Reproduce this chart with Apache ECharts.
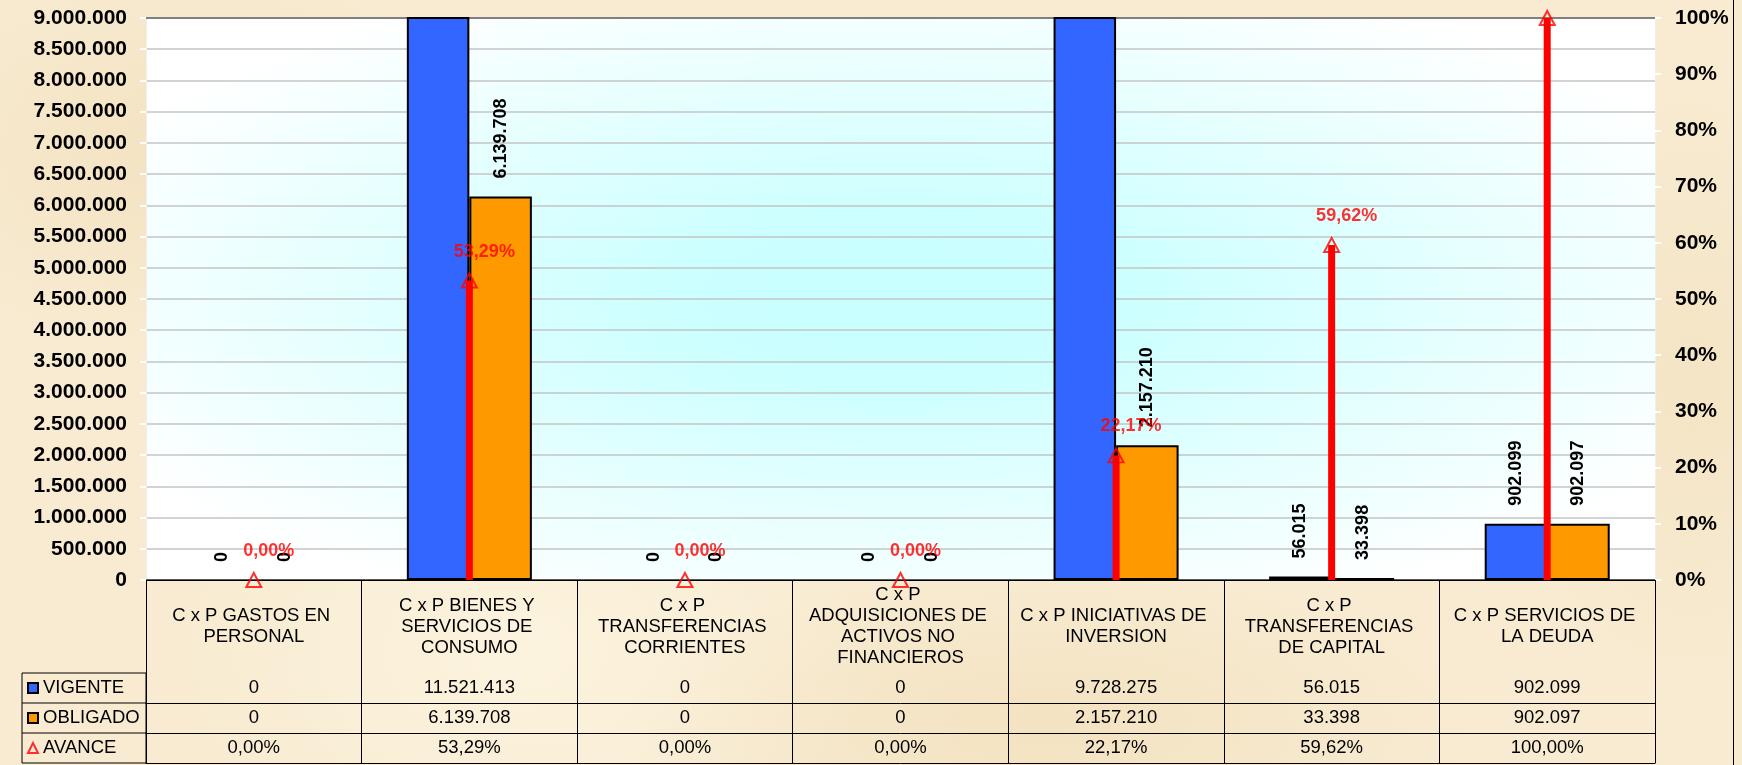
<!DOCTYPE html>
<html>
<head>
<meta charset="utf-8">
<script src="https://cdn.jsdelivr.net/npm/echarts@6/dist/echarts.min.js"></script>
<style>
html, body { margin: 0; padding: 0; }
body {
    width: 1742px; height: 765px; overflow: hidden;
    background-color: #f8ebd1;
    background-image:
        radial-gradient(ellipse 300px 200px at 10% 20%, rgba(240, 220, 182, 0.55), rgba(240, 220, 182, 0)),
        radial-gradient(ellipse 420px 160px at 60% 95%, rgba(238, 218, 178, 0.5), rgba(238, 218, 178, 0)),
        radial-gradient(ellipse 200px 300px at 97% 50%, rgba(240, 222, 186, 0.5), rgba(240, 222, 186, 0)),
        radial-gradient(ellipse 350px 250px at 30% 85%, rgba(255, 249, 232, 0.6), rgba(255, 249, 232, 0));
}
#main { width: 1733px; height: 765px; border-right: 1px solid #000; }
</style>
</head>
<body>
<div id="main"></div>
<script>
// datos
var categorias = [
    "C x P GASTOS EN PERSONAL",
    "C x P BIENES Y SERVICIOS DE CONSUMO",
    "C x P TRANSFERENCIAS CORRIENTES",
    "C x P ADQUISICIONES DE ACTIVOS NO FINANCIEROS",
    "C x P INICIATIVAS DE INVERSION",
    "C x P TRANSFERENCIAS DE CAPITAL",
    "C x P SERVICIOS DE LA DEUDA"
];
var vigente = [0, 11521413, 0, 0, 9728275, 56015, 902099];
var obligado = [0, 6139708, 0, 0, 2157210, 33398, 902097];
var avance = [0, 53.29, 0, 0, 22.17, 59.62, 100];

var Y_MAX = 9000000, Y_STEP = 500000;
var FONT = 'Liberation Sans, Arial, sans-serif';
var GRID_LEFT = 146, GRID_TOP = 18, GRID_H = 562;
var HEAD_H = 93, ROW_H = 30;

var chartDom = document.getElementById('main');
var myChart = echarts.init(chartDom);
var W = chartDom.clientWidth;
var GRID_RIGHT = W - 1655;
var GRID_W = W - GRID_LEFT - GRID_RIGHT;
var GRID_BOTTOM = 765 - GRID_TOP - GRID_H;

function miles(v) {
    return String(v).replace(/\B(?=(\d{3})+(?!\d))/g, '.');
}
function pct(v) {
    return v.toFixed(2).replace('.', ',') + '%';
}
// las barras en cero no llevan borde
function barras(valores) {
    return valores.map(function (v) {
        return v === 0 ? { value: v, itemStyle: { borderWidth: 0 } } : v;
    });
}

// eje de una fila de la tabla de datos
function filaEje(offset, textos) {
    return {
        type: 'category',
        data: categorias,
        position: 'bottom',
        offset: offset,
        axisLine: { show: true, lineStyle: { color: '#000', width: 1 } },
        axisTick: { show: false },
        axisLabel: {
            show: !!textos,
            interval: 0,
            margin: ROW_H / 2,
            verticalAlign: 'middle',
            fontFamily: FONT,
            fontSize: 18.5,
            color: '#000',
            formatter: function (v, i) { return textos ? textos[i] : ''; }
        }
    };
}

var etiquetaBarra = {
    show: true,
    position: 'top',
    distance: 18,
    rotate: 90,
    align: 'left',
    verticalAlign: 'middle',
    fontFamily: FONT,
    fontSize: 18,
    fontWeight: 'bold',
    color: '#000',
    formatter: function (p) { return p.value > Y_MAX ? '' : miles(p.value); }
};

var yTop = GRID_TOP + GRID_H + HEAD_H;

var option = {
    animation: false,
    textStyle: { fontFamily: FONT },
    grid: { left: GRID_LEFT, right: GRID_RIGHT, top: GRID_TOP, bottom: GRID_BOTTOM },
    graphic: [
        {
            type: 'rect', z: -10, silent: true,
            x: GRID_LEFT, y: GRID_TOP, scaleX: GRID_W / GRID_H,
            shape: { x: 0, y: 0, width: GRID_H, height: GRID_H },
            style: {
                fill: new echarts.graphic.RadialGradient(0.5, 0.5, 0.6, [
                    { offset: 0, color: '#c8ffff' },
                    { offset: 0.25, color: '#ccffff' },
                    { offset: 1, color: '#ffffff' }
                ])
            }
        },
        {
            type: 'rect', silent: true,
            shape: { x: 22, y: yTop, width: GRID_LEFT - 22, height: 3 * ROW_H },
            style: { fill: 'rgba(0,0,0,0)', stroke: '#000', lineWidth: 1 }
        },
        {
            type: 'line', silent: true,
            shape: { x1: 22, y1: yTop + ROW_H, x2: GRID_LEFT, y2: yTop + ROW_H },
            style: { stroke: '#000', lineWidth: 1 }
        },
        {
            type: 'line', silent: true,
            shape: { x1: 22, y1: yTop + 2 * ROW_H, x2: GRID_LEFT, y2: yTop + 2 * ROW_H },
            style: { stroke: '#000', lineWidth: 1 }
        }
    ],
    legend: {
        orient: 'vertical',
        left: 27,
        top: yTop,
        padding: 0,
        itemGap: 0,
        itemWidth: 10,
        itemHeight: 10,
        selectedMode: false,
        textStyle: { fontFamily: FONT, fontSize: 18.5, color: '#000', lineHeight: ROW_H },
        data: [
            { name: 'VIGENTE', icon: 'rect', itemStyle: { color: '#3366ff', borderColor: '#000', borderWidth: 2 } },
            { name: 'OBLIGADO', icon: 'rect', itemStyle: { color: '#ff9900', borderColor: '#000', borderWidth: 2 } },
            { name: 'AVANCE', icon: 'triangle', itemWidth: 12, itemHeight: 11,
              itemStyle: { color: 'rgba(255,255,255,0)', borderColor: '#ff0000', borderWidth: 2 } }
        ]
    },
    xAxis: [
        {
            type: 'category',
            data: categorias,
            position: 'bottom',
            axisLine: { show: true, lineStyle: { color: '#333', width: 1.5 } },
            axisTick: { show: true, interval: 0, length: HEAD_H + 3 * ROW_H, lineStyle: { color: '#000', width: 1 } },
            axisLabel: {
                interval: 0,
                margin: HEAD_H / 2,
                verticalAlign: 'middle',
                width: 196,
                overflow: 'break',
                lineHeight: 21,
                fontFamily: FONT,
                fontSize: 18.5,
                color: '#000'
            }
        },
        filaEje(HEAD_H, vigente.map(miles)),
        filaEje(HEAD_H + ROW_H, obligado.map(miles)),
        filaEje(HEAD_H + 2 * ROW_H, avance.map(pct)),
        filaEje(HEAD_H + 3 * ROW_H, null),
        {
            type: 'category',
            data: categorias,
            position: 'top',
            axisLine: { show: true, lineStyle: { color: '#808080', width: 2 } },
            axisTick: { show: false },
            axisLabel: { show: false }
        }
    ],
    yAxis: [
        {
            type: 'value',
            min: 0,
            max: Y_MAX,
            interval: Y_STEP,
            axisLine: { show: true, lineStyle: { color: '#eeeeee', width: 1 } },
            axisTick: { show: true, length: 6, lineStyle: { color: '#ffffff', width: 2 } },
            splitLine: { show: true, lineStyle: { color: '#c4c4c4', width: 1.5 } },
            axisLabel: {
                margin: 19,
                fontFamily: FONT,
                fontSize: 21,
                fontWeight: 'bold',
                color: '#000',
                formatter: function (v) { return miles(v); }
            }
        },
        {
            type: 'value',
            position: 'right',
            min: 0,
            max: 100,
            interval: 10,
            axisLine: { show: true, lineStyle: { color: '#eeeeee', width: 1 } },
            axisTick: { show: true, length: 6, lineStyle: { color: '#ffffff', width: 2 } },
            splitLine: { show: false },
            axisLabel: {
                margin: 20,
                fontFamily: FONT,
                fontSize: 21,
                fontWeight: 'bold',
                color: '#000',
                formatter: function (v) { return v + '%'; }
            }
        }
    ],
    series: [
        {
            name: 'VIGENTE',
            type: 'bar',
            xAxisIndex: 0,
            yAxisIndex: 0,
            data: barras(vigente),
            barGap: '0%',
            barCategoryGap: '42%',
            itemStyle: { color: '#3366ff', borderColor: '#000', borderWidth: 2 },
            label: etiquetaBarra
        },
        {
            name: 'OBLIGADO',
            type: 'bar',
            xAxisIndex: 0,
            yAxisIndex: 0,
            data: barras(obligado),
            barGap: '0%',
            barCategoryGap: '42%',
            itemStyle: { color: '#ff9900', borderColor: '#000', borderWidth: 2 },
            label: etiquetaBarra
        },
        {
            name: 'flecha',
            type: 'bar',
            xAxisIndex: 1,
            yAxisIndex: 1,
            data: avance,
            barWidth: 7,
            z: 3,
            silent: true,
            itemStyle: { color: '#ff0000' }
        },
        {
            name: 'AVANCE',
            type: 'scatter',
            xAxisIndex: 1,
            yAxisIndex: 1,
            data: avance,
            clip: false,
            z: 4,
            symbol: 'triangle',
            symbolSize: [15, 14],
            itemStyle: { color: 'rgba(255,255,255,0)', borderColor: '#ff0000', borderWidth: 2 },
            label: {
                show: true,
                position: 'top',
                distance: 12,
                offset: [15, 0],
                fontFamily: FONT,
                fontSize: 18,
                fontWeight: 'bold',
                color: '#ff0000',
                formatter: function (p) { return pct(p.value); }
            }
        }
    ]
};
myChart.setOption(option);
</script>
</body>
</html>
